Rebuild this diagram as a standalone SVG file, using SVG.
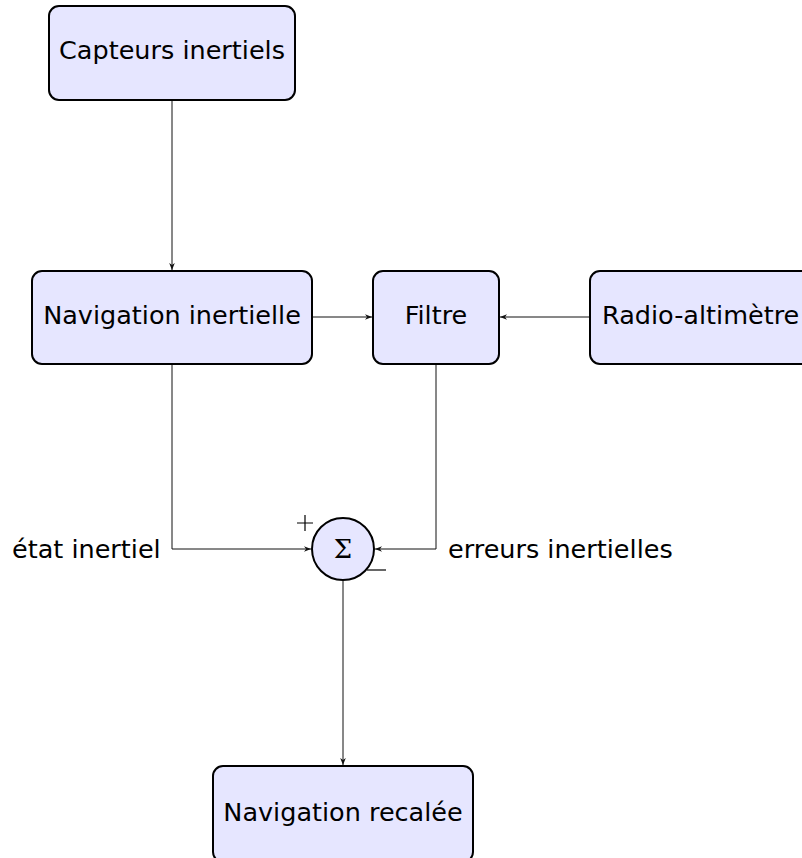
<svg xmlns="http://www.w3.org/2000/svg" width="802" height="858" viewBox="0 0 802 858">
<defs>
<style>
.box{fill:#e6e6ff;stroke:#000;stroke-width:2}
.lbl{font-family:"DejaVu Sans","Liberation Sans",sans-serif;font-size:25.5px;fill:#000}
.c{text-anchor:middle}
.wire{fill:none;stroke:#111;stroke-width:1}
.sign{stroke:#000;stroke-width:1.2;fill:none}
</style>
<marker id="ah" viewBox="0 0 10 10" refX="10" refY="5" markerWidth="7" markerHeight="7" markerUnits="userSpaceOnUse" orient="auto">
<path d="M0,1 L10,5 L0,9 L3,5 Z" fill="#111"/>
</marker>
</defs>
<rect width="802" height="858" fill="#fff"/>
<g id="connectors">
<path class="wire" d="M172,100 V270" marker-end="url(#ah)"/>
<path class="wire" d="M312,317 H372" marker-end="url(#ah)"/>
<path class="wire" d="M590,317 H500" marker-end="url(#ah)"/>
<path class="wire" d="M172,364 V549 H311" marker-end="url(#ah)"/>
<path class="wire" d="M436,364 V549 H375" marker-end="url(#ah)"/>
<path class="wire" d="M343,581 V765" marker-end="url(#ah)"/>
</g>
<g id="capteurs">
<rect class="box" x="49" y="6" width="246" height="94" rx="10"/>
<text class="lbl c" x="172" y="59">Capteurs inertiels</text>
</g>
<g id="navigation">
<rect class="box" x="32" y="271" width="280" height="93" rx="10"/>
<text class="lbl c" x="172" y="323.5">Navigation inertielle</text>
</g>
<g id="filtre">
<rect class="box" x="373" y="271" width="126" height="93" rx="10"/>
<text class="lbl c" x="436" y="323.5">Filtre</text>
</g>
<g id="radio">
<rect class="box" x="590" y="271" width="224" height="93" rx="10"/>
<text class="lbl" x="602" y="323.5">Radio-altimètre</text>
</g>
<g id="somme">
<circle class="box" cx="343" cy="549" r="31"/>
<text x="343" y="558" text-anchor="middle" style="font-family:'DejaVu Serif','Liberation Serif',serif;font-size:26px">Σ</text>
<path class="sign" d="M297,523 H313 M305,515 V531"/>
<path class="sign" d="M367,570 H386"/>
</g>
<g id="labels">
<text class="lbl" x="12" y="558">état inertiel</text>
<text class="lbl" x="448" y="558">erreurs inertielles</text>
</g>
<g id="recalee">
<rect class="box" x="213" y="766" width="260" height="96" rx="10"/>
<text class="lbl c" x="343" y="820.5">Navigation recalée</text>
</g>
</svg>
